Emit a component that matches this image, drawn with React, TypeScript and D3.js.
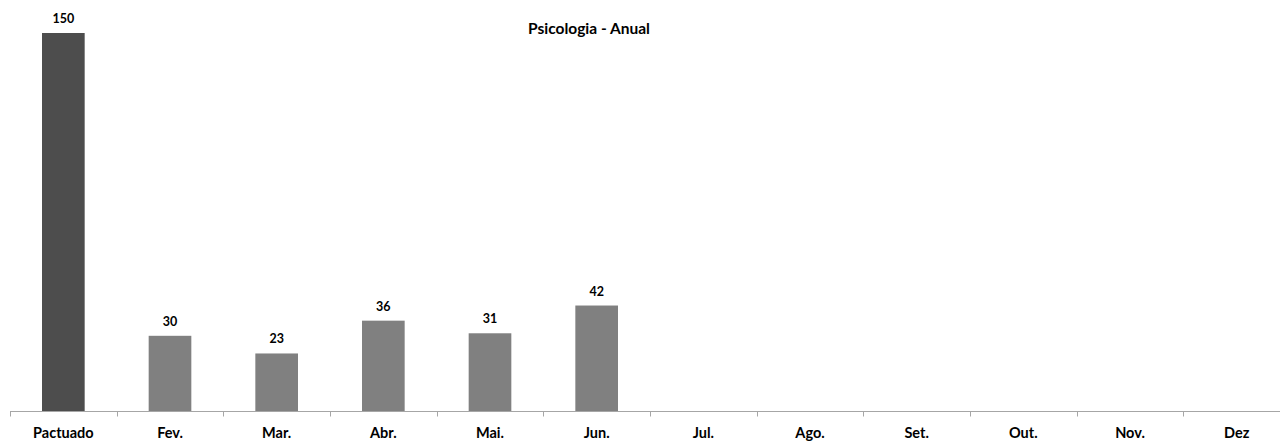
import * as d3 from "d3";

const categories = ["Pactuado", "Fev.", "Mar.", "Abr.", "Mai.", "Jun.", "Jul.", "Ago.", "Set.", "Out.", "Nov.", "Dez"];
const values: (number | null)[] = [150, 30, 23, 36, 31, 42, null, null, null, null, null, null];
const title = "Psicologia - Anual";

const W = 1280;
const H = 442;
const FONT = "Lato, 'Open Sans', sans-serif";

const App = () => {
  const x = d3
    .scaleBand<string>()
    .domain(categories)
    .range([10, 1290])
    .paddingInner(0.6)
    .paddingOuter(0.3);

  const y = d3.scaleLinear().domain([0, 150]).range([411.5, 33]);

  const step = x.step();
  const off = step * x.paddingOuter();
  const ticks = d3.range(categories.length + 1).map((i) => 10 + i * step);

  return (
    <svg width={W} height={H} style={{ position: "absolute", left: 0, top: 0 }}>
      <rect width={W} height={H} fill="#fff" />
      <text x={589} y={34} textAnchor="middle" fontFamily={FONT} fontWeight="bold" fontSize={15.5} fill="#000">
        {title}
      </text>
      {categories.map((c, i) => {
        const v = values[i];
        if (v == null) return null;
        const bx = x(c)!;
        return (
          <g key={c}>
            <rect
              x={bx}
              y={y(v)}
              width={x.bandwidth()}
              height={y(0) - y(v)}
              fill={i === 0 ? "#4d4d4d" : "#808080"}
            />
            <text
              x={bx + x.bandwidth() / 2}
              y={y(v) - 10}
              textAnchor="middle"
              fontFamily={FONT}
              fontWeight="bold"
              fontSize={12.5}
              fill="#000"
            >
              {v}
            </text>
          </g>
        );
      })}
      <line x1={10} x2={1290} y1={y(0)} y2={y(0)} stroke="#a6a6a6" strokeWidth={1} />
      {ticks.map((t, i) => (
        <line key={i} x1={Math.round(t) + 0.5} x2={Math.round(t) + 0.5} y1={y(0)} y2={y(0) + 5} stroke="#a6a6a6" />
      ))}
      {categories.map((c) => (
        <text
          key={c}
          x={x(c)! - off + step / 2}
          y={438}
          textAnchor="middle"
          fontFamily={FONT}
          fontWeight="bold"
          fontSize={14.5}
          fill="#000"
        >
          {c}
        </text>
      ))}
    </svg>
  );
};

export default App;
